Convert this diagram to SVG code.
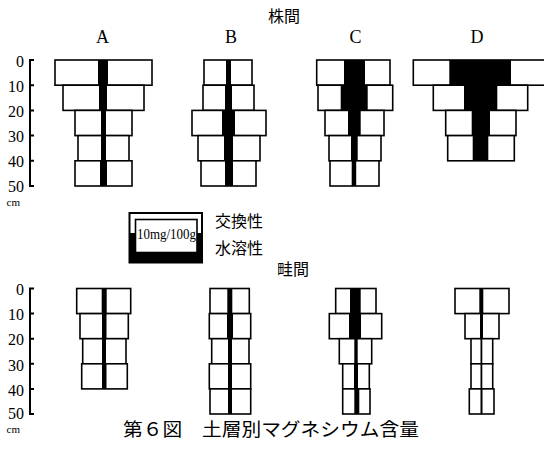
<svg xmlns="http://www.w3.org/2000/svg" width="544" height="453" viewBox="0 0 544 453">
<style>
.box{fill:#fff;stroke:#000;stroke-width:1.6}
.bar{fill:#000}
.ax{fill:none;stroke:#000;stroke-width:2}
.num{font-family:"Liberation Serif",serif;font-size:16px;text-anchor:end;fill:#000}
.cm{font-family:"Liberation Serif",serif;font-size:11px;fill:#000}
.let{font-family:"Liberation Serif",serif;font-size:18px;text-anchor:middle;fill:#000}
.jp{font-family:"Noto Sans CJK JP",sans-serif;font-size:16px;fill:#000}
</style>
<rect width="544" height="453" fill="#fff"/>

<g id="label-kabuma"><text class="jp" x="268" y="22">株間</text></g>
<g id="label-unema"><text class="jp" x="277" y="275">畦間</text></g>

<g id="letters">
<text class="let" x="102.5" y="43">A</text>
<text class="let" x="231" y="43">B</text>
<text class="let" x="355.5" y="43">C</text>
<text class="let" x="477" y="43">D</text>
</g>

<g id="axis-top">
<path class="ax" d="M34,60H30V186H34M30,85.2H34M30,110.4H34M30,135.6H34M30,160.8H34"/>
<text class="num" x="24" y="66.5">0</text>
<text class="num" x="24" y="91.5">10</text>
<text class="num" x="24" y="116.5">20</text>
<text class="num" x="24" y="142">30</text>
<text class="num" x="24" y="167">40</text>
<text class="num" x="24" y="192">50</text>
<text class="cm" x="6.5" y="206">cm</text>
</g>

<g id="axis-bottom">
<path class="ax" d="M34,288.5H30V414H34M30,313.6H34M30,338.7H34M30,363.8H34M30,388.9H34"/>
<text class="num" x="24" y="295">0</text>
<text class="num" x="24" y="320">10</text>
<text class="num" x="24" y="345">20</text>
<text class="num" x="24" y="370.5">30</text>
<text class="num" x="24" y="395.5">40</text>
<text class="num" x="24" y="418.5">50</text>
<text class="cm" x="6.5" y="433">cm</text>
</g>

<g id="top-A">
<rect class="box" x="55" y="60" width="97" height="25.2"/>
<rect class="box" x="63" y="85.2" width="81" height="25.2"/>
<rect class="box" x="75" y="110.4" width="57" height="25.2"/>
<rect class="box" x="78" y="135.6" width="51" height="25.2"/>
<rect class="box" x="75" y="160.8" width="57" height="25.2"/>
<rect class="bar" x="98" y="60" width="10" height="25.2"/>
<rect class="bar" x="99" y="85.2" width="8" height="25.2"/>
<rect class="bar" x="101" y="110.4" width="5" height="25.2"/>
<rect class="bar" x="101" y="135.6" width="5" height="25.2"/>
<rect class="bar" x="100" y="160.8" width="7" height="25.2"/>
</g>

<g id="top-B">
<rect class="box" x="204" y="60" width="48" height="25.2"/>
<rect class="box" x="203" y="85.2" width="51" height="25.2"/>
<rect class="box" x="192" y="110.4" width="74" height="25.2"/>
<rect class="box" x="198" y="135.6" width="62" height="25.2"/>
<rect class="box" x="201" y="160.8" width="55" height="25.2"/>
<rect class="bar" x="226" y="60" width="5" height="25.2"/>
<rect class="bar" x="225" y="85.2" width="7" height="25.2"/>
<rect class="bar" x="222" y="110.4" width="13" height="25.2"/>
<rect class="bar" x="224" y="135.6" width="9" height="25.2"/>
<rect class="bar" x="225" y="160.8" width="8" height="25.2"/>
</g>

<g id="top-C">
<rect class="box" x="316.7" y="60" width="73.3" height="25.2"/>
<rect class="box" x="318" y="85.2" width="74.7" height="25.2"/>
<rect class="box" x="325" y="110.4" width="59" height="25.2"/>
<rect class="box" x="329" y="135.6" width="52" height="25.2"/>
<rect class="box" x="330" y="160.8" width="49" height="25.2"/>
<rect class="bar" x="344" y="60" width="21" height="25.2"/>
<rect class="bar" x="340.7" y="85.2" width="27" height="25.2"/>
<rect class="bar" x="348" y="110.4" width="12.7" height="25.2"/>
<rect class="bar" x="351" y="135.6" width="6.7" height="25.2"/>
<rect class="bar" x="351.7" y="160.8" width="4.5" height="25.2"/>
</g>

<g id="top-D">
<rect class="box" x="413.3" y="60" width="132" height="25.2"/>
<rect class="box" x="433.3" y="85.2" width="94.4" height="25.2"/>
<rect class="box" x="445.7" y="110.4" width="70.3" height="25.2"/>
<rect class="box" x="447.7" y="135.6" width="66.6" height="25.2"/>
<rect class="bar" x="449.3" y="60" width="61.7" height="25.2"/>
<rect class="bar" x="464" y="85.2" width="33.3" height="25.2"/>
<rect class="bar" x="471.7" y="110.4" width="18.3" height="25.2"/>
<rect class="bar" x="472.7" y="135.6" width="15.6" height="25.2"/>
</g>

<g id="legend">
<rect class="box" x="129.5" y="213" width="72.5" height="49.5" style="stroke-width:2"/>
<rect class="bar" x="129.5" y="233" width="72.5" height="29.5"/>
<rect class="box" x="135.5" y="219.5" width="61.5" height="33"/>
<text x="137" y="239" textLength="59" lengthAdjust="spacingAndGlyphs" style="font-family:'Liberation Serif',serif;font-size:14px;fill:#000">10mg/100g</text>
<text class="jp" x="215" y="227">交換性</text>
<text class="jp" x="215" y="254">水溶性</text>
</g>

<g id="bottom-A">
<rect class="box" x="76.7" y="288.5" width="54" height="25.1"/>
<rect class="box" x="80" y="313.6" width="48.3" height="25.1"/>
<rect class="box" x="82.7" y="338.7" width="43.3" height="25.1"/>
<rect class="box" x="81.7" y="363.8" width="45.6" height="25.1"/>
<rect class="bar" x="101.7" y="288.5" width="5" height="25.1"/>
<rect class="bar" x="102" y="313.6" width="4.5" height="25.1"/>
<rect class="bar" x="102" y="338.7" width="4" height="25.1"/>
<rect class="bar" x="102" y="363.8" width="4.5" height="25.1"/>
</g>

<g id="bottom-B">
<rect class="box" x="210" y="288.5" width="39.3" height="25.1"/>
<rect class="box" x="209.3" y="313.6" width="41.4" height="25.1"/>
<rect class="box" x="211.7" y="338.7" width="37.3" height="25.1"/>
<rect class="box" x="209.3" y="363.8" width="41.4" height="25.1"/>
<rect class="box" x="210" y="388.9" width="40.7" height="25.1"/>
<rect class="bar" x="227.3" y="288.5" width="5" height="25.1"/>
<rect class="bar" x="227" y="313.6" width="6" height="25.1"/>
<rect class="bar" x="228" y="338.7" width="4" height="25.1"/>
<rect class="bar" x="228" y="363.8" width="4" height="25.1"/>
<rect class="bar" x="228" y="388.9" width="4" height="25.1"/>
</g>

<g id="bottom-C">
<rect class="box" x="335.7" y="288.5" width="40.3" height="25.1"/>
<rect class="box" x="329.3" y="313.6" width="52.4" height="25.1"/>
<rect class="box" x="339.3" y="338.7" width="32.4" height="25.1"/>
<rect class="box" x="342.7" y="363.8" width="26.6" height="25.1"/>
<rect class="box" x="342.7" y="388.9" width="27.3" height="25.1"/>
<rect class="bar" x="350" y="288.5" width="10.7" height="25.1"/>
<rect class="bar" x="349" y="313.6" width="12" height="25.1"/>
<rect class="bar" x="354.3" y="338.7" width="3.4" height="25.1"/>
<rect class="bar" x="354" y="363.8" width="4" height="25.1"/>
<rect class="bar" x="354.3" y="388.9" width="5" height="25.1"/>
</g>

<g id="bottom-D">
<rect class="box" x="455" y="288.5" width="54" height="25.1"/>
<rect class="box" x="465" y="313.6" width="34" height="25.1"/>
<rect class="box" x="471" y="338.7" width="21.7" height="25.1"/>
<rect class="box" x="471" y="363.8" width="21.7" height="25.1"/>
<rect class="box" x="469.3" y="388.9" width="24.7" height="25.1"/>
<rect class="bar" x="479.3" y="288.5" width="4" height="25.1"/>
<rect class="bar" x="480" y="313.6" width="3" height="25.1"/>
<rect class="bar" x="480.5" y="338.7" width="1.8" height="25.1"/>
<rect class="bar" x="480.5" y="363.8" width="1.8" height="25.1"/>
<rect class="bar" x="480.5" y="388.9" width="2" height="25.1"/>
</g>

<g id="caption">
<text x="123" y="436" textLength="296" lengthAdjust="spacingAndGlyphs" style="font-family:'Noto Sans CJK JP',sans-serif;font-size:18.5px;fill:#000">第６図　土層別マグネシウム含量</text>
</g>
</svg>
